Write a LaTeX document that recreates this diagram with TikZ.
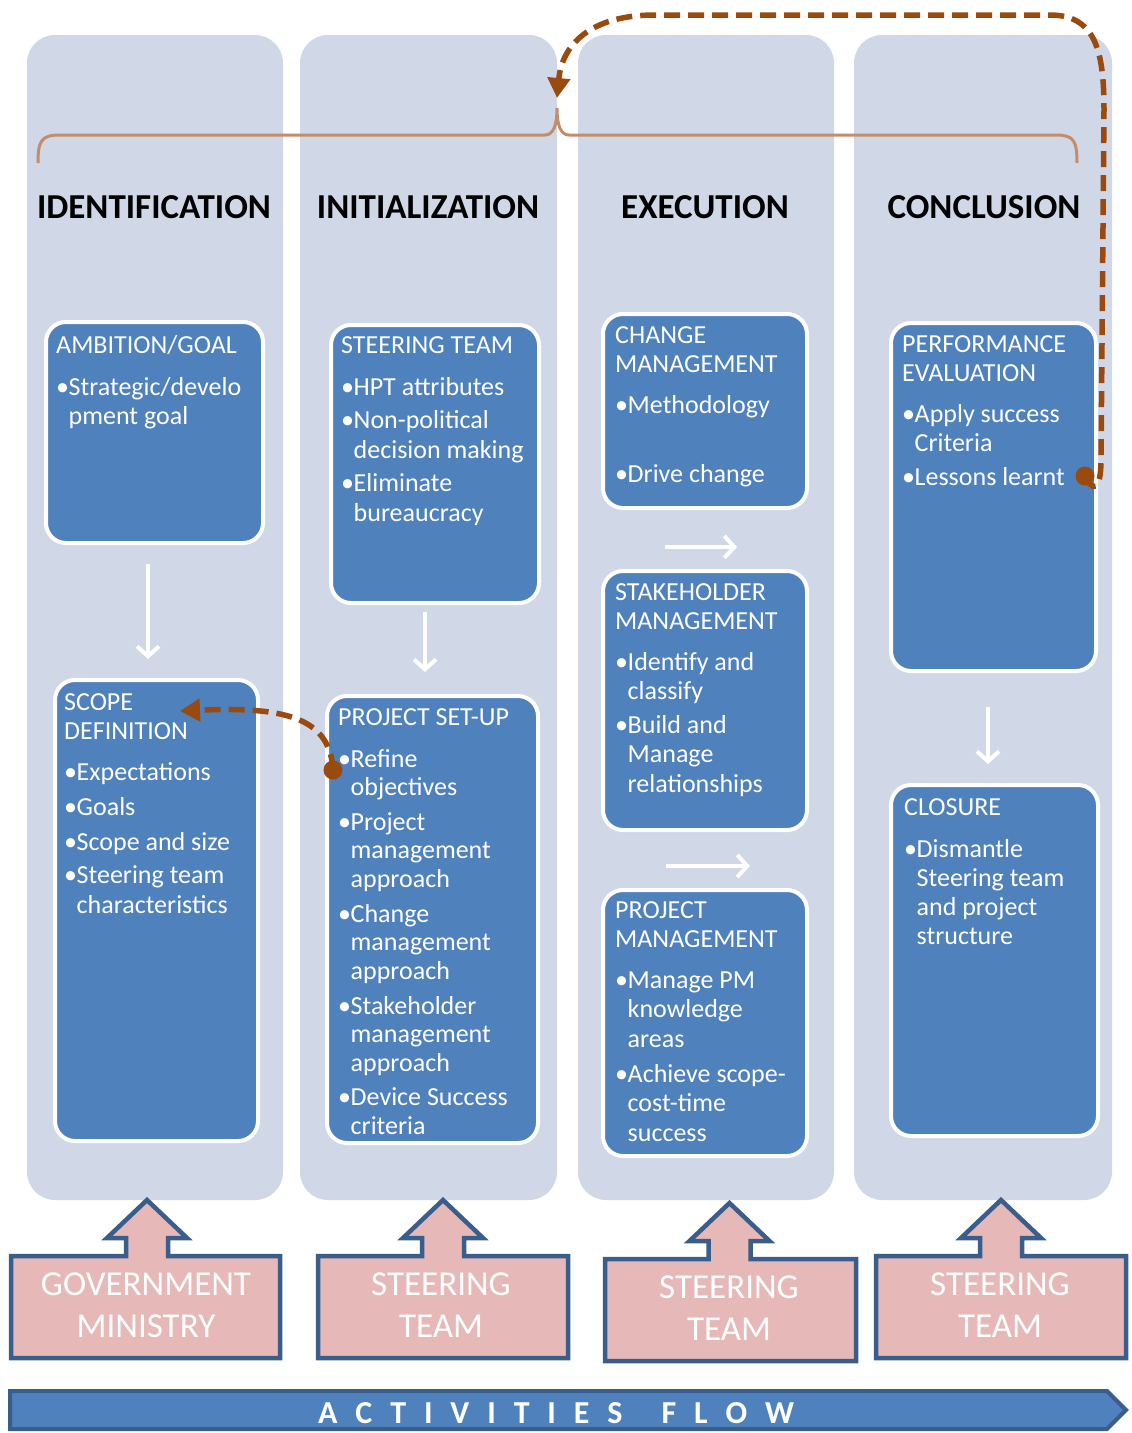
\documentclass[tikz,border=0pt]{standalone}
\usepackage{fontspec}
\setmainfont{Carlito}
\usetikzlibrary{arrows.meta}

\definecolor{colbg}{HTML}{D0D8E8}
\definecolor{boxblue}{HTML}{4F81BD}
\definecolor{edgeblue}{HTML}{3A5E8C}
\definecolor{pinkfill}{HTML}{E6B9B8}
\definecolor{loopbrown}{HTML}{9A4A0C}
\definecolor{bracebrown}{HTML}{C38D69}

% stacked lines of a card: heading, bullet line, continuation line, extra gap
\newcommand\cardlines[2]{\vtop{\baselineskip=#1pt\lineskiplimit=-100pt #2}}
\newcommand\hd[1]{\hbox{#1}}
\newcommand\bi[1]{\hbox{\makebox[12.5pt][l]{•}#1}}
\newcommand\ci[1]{\hbox{\hspace*{12.5pt}#1}}
\newcommand\gp[1]{\vskip#1pt}
% two centred lines for the callouts
\newcommand\twolines[2]{\vtop{\baselineskip=42pt\lineskiplimit=-100pt
  \hbox to 0pt{\hss#1\hss}\hbox to 0pt{\hss#2\hss}}}
\newcommand\ls{\hspace{17.9pt}}

% up-arrow callout: centre x, left, right, top, bottom
\newcommand\upcallout[5]{%
  \draw[callout] (#2,#4) -- ({#1-21},#4) -- ({#1-21},{#4-18}) -- ({#1-40},{#4-18})
    -- (#1,{#4-56}) -- ({#1+40},{#4-18}) -- ({#1+21},{#4-18}) -- ({#1+21},#4)
    -- (#3,#4) -- (#3,#5) -- (#2,#5) -- cycle;}

\begin{document}
\begin{tikzpicture}[x=1pt,y=-1pt,
  colpanel/.style={fill=colbg, rounded corners=28pt, inner sep=0pt, minimum height=1165pt},
  card/.style={draw=white, line width=4pt, fill=boxblue, rounded corners=20pt, inner sep=0pt},
  cardtext/.style={anchor=base west, inner sep=0pt, text=white, font=\fontsize{26}{29.5}\selectfont},
  phase/.style={anchor=base, inner sep=0pt, font=\fontsize{35}{40}\selectfont\bfseries},
  whitearrow/.style={draw=white, line width=4pt, -{Straight Barb[length=10pt,width=22pt]}},
  loop/.style={draw=loopbrown, line width=5.5pt, dash pattern=on 16pt off 8pt,
    -{Triangle[length=20pt,width=22pt]}},
  dotn/.style={circle, fill=loopbrown, inner sep=0pt, minimum size=19pt},
  callout/.style={fill=pinkfill, draw=edgeblue, line width=4.5pt, line join=miter},
  callouttext/.style={anchor=base, inner sep=0pt, text=white, font=\fontsize{35}{42}\selectfont},
  flowbar/.style={fill=boxblue, draw=edgeblue, line width=4pt, line join=miter}]

\useasboundingbox (0,0) rectangle (1132,1433);

% phase columns
\node[colpanel, minimum width=256pt] (col1) at (155,617.5) {};
\node[colpanel, minimum width=257pt] (col2) at (428.5,617.5) {};
\node[colpanel, minimum width=256pt] (col3) at (706,617.5) {};
\node[colpanel, minimum width=258pt] (col4) at (983,617.5) {};

% bracket over the phases
\draw[bracebrown, line width=3pt]
  (38,163) .. controls (38,141) and (41,135) .. (60,135) -- (545,135)
  .. controls (553,135) and (557,126) .. (557,108)
  .. controls (557,126) and (561,135) .. (569,135) -- (1056,135)
  .. controls (1074,135) and (1077,141) .. (1077,163);

% phase titles
\node[phase] (tid) at (154,218) {IDENTIFICATION};
\node[phase] (tin) at (428,218) {INITIALIZATION};
\node[phase] (tex) at (705,218) {EXECUTION};
\node[phase] (tco) at (984,218) {CONCLUSION};

% cards
\node[card, minimum width=217pt, minimum height=221pt] (ambition) at (154.5,432.5) {};
\node[card, minimum width=208pt, minimum height=278pt] (steer) at (435,464) {};
\node[card, minimum width=204pt, minimum height=194pt] (change) at (705,411) {};
\node[card, minimum width=205pt, minimum height=348pt] (perf) at (993.5,497) {};
\node[card, minimum width=203pt, minimum height=461pt] (scope) at (156.5,910.5) {};
\node[card, minimum width=211pt, minimum height=447pt] (setup) at (432.5,919.5) {};
\node[card, minimum width=204pt, minimum height=259pt] (stake) at (705,700.5) {};
\node[card, minimum width=204pt, minimum height=266pt] (pm) at (705,1023) {};
\node[card, minimum width=207pt, minimum height=351pt] (closure) at (994.5,960.5) {};

% card texts
\node[cardtext] (ambitionT) at (56,353) {\cardlines{29.5}{\hd{AMBITION/GOAL}\gp{12.5}%
  \bi{Strategic/develo}\ci{pment goal}}};
\node[cardtext] (steerT) at (341,353) {\cardlines{29.5}{\hd{STEERING TEAM}\gp{12.5}%
  \bi{HPT attributes}\gp{4}\bi{Non-political}\ci{decision making}\gp{4}%
  \bi{Eliminate}\ci{bureaucracy}}};
\node[cardtext] (changeT) at (615,343) {\cardlines{29.5}{\hd{CHANGE}\hd{MANAGEMENT}\gp{11}%
  \bi{Methodology}\gp{39.5}\bi{Drive change}}};
\node[cardtext] (perfT) at (902,352) {\cardlines{29.5}{\hd{PERFORMANCE}\hd{EVALUATION}\gp{11}%
  \bi{Apply success}\ci{Criteria}\gp{4}\bi{Lessons learnt}}};
\node[cardtext] (scopeT) at (64,710) {\cardlines{29.5}{\hd{SCOPE}\hd{DEFINITION}\gp{11}%
  \bi{Expectations}\gp{5.5}\bi{Goals}\gp{5.5}\bi{Scope and size}\gp{4}%
  \bi{Steering team}\ci{characteristics}}};
\node[cardtext] (setupT) at (338,725) {\cardlines{28.7}{\hd{PROJECT SET-UP}\gp{13.3}%
  \bi{Refine}\ci{objectives}\gp{5.8}%
  \bi{Project}\ci{management}\ci{approach}\gp{5.8}%
  \bi{Change}\ci{management}\ci{approach}\gp{5.8}%
  \bi{Stakeholder}\ci{management}\ci{approach}\gp{5.8}%
  \bi{Device Success}\ci{criteria}}};
\node[cardtext] (stakeT) at (615,600) {\cardlines{29.5}{\hd{STAKEHOLDER}\hd{MANAGEMENT}\gp{11}%
  \bi{Identify and}\ci{classify}\gp{4}\bi{Build and}\ci{Manage}\ci{relationships}}};
\node[cardtext] (pmT) at (615,918) {\cardlines{29.5}{\hd{PROJECT}\hd{MANAGEMENT}\gp{11}%
  \bi{Manage PM}\ci{knowledge}\ci{areas}\gp{5.5}%
  \bi{Achieve scope-}\ci{cost-time}\ci{success}}};
\node[cardtext] (closureT) at (904,815) {\cardlines{29}{\hd{CLOSURE}\gp{13}%
  \bi{Dismantle}\ci{Steering team}\ci{and project}\ci{structure}}};

% white flow arrows between cards
\draw[whitearrow] (ambition.south) ++(-6.5,19) -- ++(0,95);
\draw[whitearrow] (steer.south) ++(-10,7) -- ++(0,60);
\draw[whitearrow] (change.south) ++(-40,37) -- ++(72,0);
\draw[whitearrow] (stake.south) ++(-39,34) -- ++(84,0);
\draw[whitearrow] (perf.south) ++(-5.5,34) -- ++(0,57);

% feedback loops
\node[dotn] (fb1) at (333,770) {};
\draw[loop] (fb1.center) .. controls (330,720) and (290,706) .. (180,711);
\node[dotn] (fb2) at (1085,476) {};
\draw[loop] (fb2.center) .. controls (1092,492) and (1101,492) .. (1101,460)
  -- (1104,110) .. controls (1104,50) and (1095,15) .. (1050,15)
  -- (655,15) .. controls (590,15) and (562,45) .. (557,98);

% actor callouts
\upcallout{147}{11}{280}{1256}{1358}
\upcallout{443}{318}{568}{1256}{1358}
\upcallout{729.5}{605}{856}{1259}{1361}
\upcallout{1001}{876}{1126}{1256}{1358}
\node[callouttext] (actor1) at (146,1295) {\twolines{GOVERNMENT}{MINISTRY}};
\node[callouttext] (actor2) at (441,1295) {\twolines{STEERING}{TEAM}};
\node[callouttext] (actor3) at (729,1298) {\twolines{STEERING}{TEAM}};
\node[callouttext] (actor4) at (1000,1295) {\twolines{STEERING}{TEAM}};

% activities flow bar
\draw[flowbar] (10,1391) -- (1107,1391) -- (1126,1410) -- (1107,1429) -- (10,1429) -- cycle;
\node[anchor=base west, inner sep=0pt, text=white, font=\fontsize{32}{36}\selectfont\bfseries]
  (flowT) at (318,1423) {A\ls C\ls T\ls I\ls V\ls I\ls T\ls I\ls E\ls S\hspace{39pt}F\ls L\ls O\ls W};

\end{tikzpicture}
\end{document}
